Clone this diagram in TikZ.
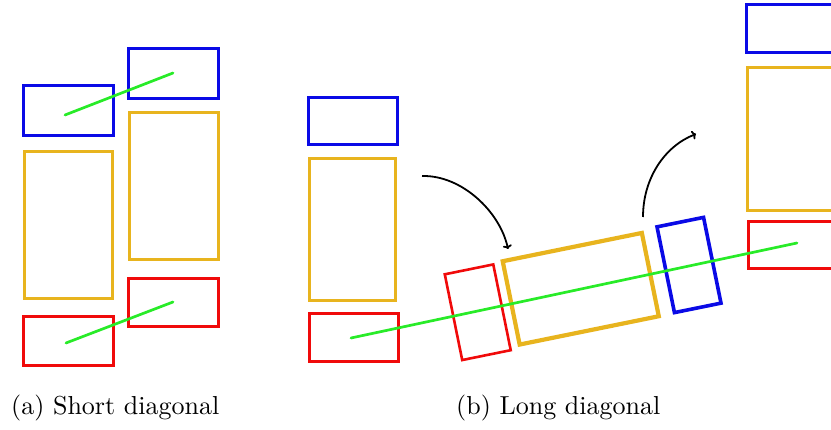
\documentclass[tikz,border=0pt]{standalone}
\usepackage{graphicx}
\usetikzlibrary{arrows.meta}

\definecolor{boxblue}{RGB}{10,10,230}
\definecolor{boxgold}{RGB}{232,180,30}
\definecolor{boxred}{RGB}{240,10,10}
\definecolor{diaggreen}{RGB}{40,235,40}

\tikzset{
  frame/.style={rectangle, inner sep=0pt, outer sep=0pt},
  bluebox/.style={frame, draw=boxblue, line width=2.9pt},
  goldbox/.style={frame, draw=boxgold, line width=2.9pt},
  redbox/.style={frame, draw=boxred, line width=2.9pt},
  diag/.style={draw=diaggreen, line width=2.7pt, line cap=round},
  turn/.style={draw=black, line width=1.8pt, -{To[length=4pt,width=9pt]}},
  caption/.style={anchor=base west, inner sep=0pt},
}

\begin{document}
\begin{tikzpicture}[x=1pt, y=-1pt]
  \useasboundingbox (0,0) rectangle (831,430);
  \clip (0,0) rectangle (831,430);

  % (a) two stacks side by side, offset vertically
  \node[bluebox, minimum width=90pt, minimum height=50pt] (bA1) at (68.5,110.5) {};
  \node[bluebox, minimum width=90pt, minimum height=50pt] (bA2) at (173.5,73.5) {};
  \node[goldbox, minimum width=88pt, minimum height=147pt] (oA1) at (68.5,225) {};
  \node[goldbox, minimum width=89pt, minimum height=147pt] (oA2) at (174,186) {};
  \node[redbox, minimum width=90pt, minimum height=49pt] (rA1) at (68.5,341) {};
  \node[redbox, minimum width=90pt, minimum height=48pt] (rA2) at (173.5,302.5) {};

  % (b) left stack
  \node[bluebox, minimum width=89pt, minimum height=47pt] (bB) at (353,121) {};
  \node[goldbox, minimum width=86pt, minimum height=142pt] (oB) at (352.5,229.5) {};
  \node[redbox, minimum width=89pt, minimum height=48pt] (rB) at (354,337.5) {};

  % (b) tilted stack along the long diagonal
  \node[redbox, line width=2.6pt, rotate=11.5, minimum width=49.5pt, minimum height=87.5pt] (rR) at (477.75,312.25) {};
  \node[goldbox, line width=4.2pt, rotate=11.5, minimum width=142pt, minimum height=85pt] (oR) at (580.75,288.75) {};
  \node[bluebox, line width=3.6pt, rotate=11.5, minimum width=47.5pt, minimum height=87.5pt] (bR) at (689,265) {};

  % (b) right stack
  \node[bluebox, minimum width=90pt, minimum height=48pt] (bC) at (791.5,28.5) {};
  \node[goldbox, minimum width=88pt, minimum height=143pt] (oC) at (791.5,139) {};
  \node[redbox, minimum width=90pt, minimum height=47pt] (rC) at (793.5,245) {};

  % diagonals
  \coordinate (gA1s) at (65,115);
  \coordinate (gA1e) at (173,73);
  \coordinate (gA2s) at (66,343);
  \coordinate (gA2e) at (173,302);
  \coordinate (gBs) at (351,338);
  \coordinate (gBe) at (797,243);
  \draw[diag] (gA1s) -- (gA1e);
  \draw[diag] (gA2s) -- (gA2e);
  \draw[diag] (gBs) -- (gBe);

  % rotation arrows
  \coordinate (t1s) at (422,176);
  \coordinate (t1e) at (508,249);
  \coordinate (t2s) at (643,217);
  \coordinate (t2e) at (696,134);
  \draw[turn] (t1s) .. controls (462,175) and (500,212) .. (t1e);
  \draw[turn] (t2s) .. controls (643,178) and (665,146) .. (t2e);

  % captions
  \node[caption] (capA) at (11,415) {\scalebox{2.6}{(a) Short diagonal}};
  \node[caption] (capB) at (456,415) {\scalebox{2.6}{(b) Long diagonal}};
\end{tikzpicture}
\end{document}
